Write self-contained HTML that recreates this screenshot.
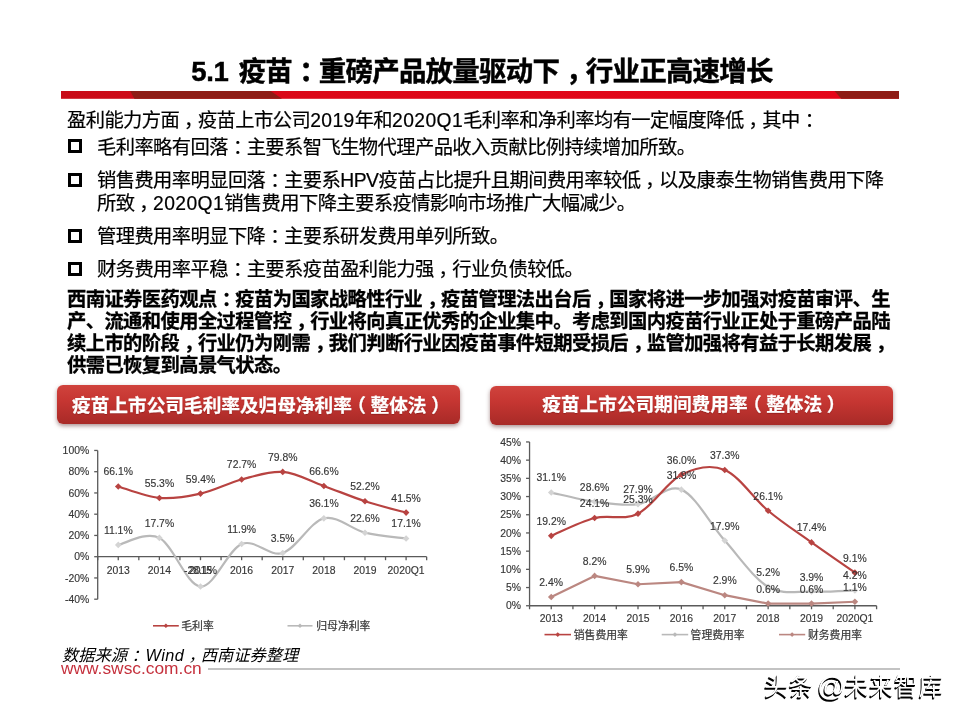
<!DOCTYPE html>
<html lang="zh-CN">
<head>
<meta charset="utf-8">
<title>5.1 疫苗：重磅产品放量驱动下，行业正高速增长</title>
<style>
html,body{margin:0;padding:0;background:#fff;}
body{width:960px;height:720px;overflow:hidden;position:relative;
  font-family:"Liberation Sans","Noto Sans CJK SC",sans-serif;color:#000;}
#slide{position:absolute;left:0;top:0;width:960px;height:720px;background:#fff;overflow:hidden;}
.abs{position:absolute;white-space:nowrap;}
#title{left:0;width:960px;top:54.2px;height:36px;line-height:36px;text-align:center;
  font-size:27.5px;font-weight:bold;letter-spacing:-.8px;word-spacing:3.5px;-webkit-text-stroke:.45px #000;}
#title span.w{position:relative;left:2px;}
.pc{position:relative;left:.25em}
.pk{position:relative;left:.26em}
.pl{position:relative;left:-.25em}
.pr{position:relative;left:.25em}
.ln{position:absolute;left:67px;white-space:nowrap;font-size:19.3px;letter-spacing:-.58px;line-height:24px;height:24px;color:#000;-webkit-text-stroke:.2px #000;}
.la{letter-spacing:.4px}
.ln.b{font-weight:bold;-webkit-text-stroke:.3px #000;}
.ln.ind{left:97px;}
.bx{position:absolute;left:68.3px;width:7.7px;height:7.7px;border:3px solid #000;background:#fff;}
.banner{position:absolute;height:39px;border-radius:6px;
  background:linear-gradient(#d0433d 0%,#c63632 40%,#a82a27 100%);
  box-shadow:0 2px 4px rgba(90,40,40,.5);
  color:#fff;font-weight:bold;font-size:18.67px;line-height:41.4px;text-align:center;white-space:nowrap;-webkit-text-stroke:.25px #fff;text-shadow:0 1px 1px rgba(80,0,0,.35);}
#src{left:62px;top:643px;font-size:16.3px;line-height:24px;font-style:italic;}
#www{left:61px;top:658px;font-size:17.35px;line-height:20px;color:#c5313d;}
#fline{position:absolute;left:208px;top:668px;width:692px;height:1.5px;background:#c3c3c3;}
.at{font-size:28px;position:relative;top:.5px;letter-spacing:-1px;word-spacing:-3.5px}
#wm{left:764px;top:670px;font-size:24px;letter-spacing:.8px;line-height:32px;color:#fff;
  text-shadow:-1px 1.5px 0 #000,-.5px 1px 0 #000;}
</style>
</head>
<body>
<div id="slide">

<div id="title" class="abs"><span class="w"><span style="letter-spacing:-.4px">5.1</span> 疫苗<span class="pk">：</span>重磅产品放量驱动下<span class="pc">，</span>行业正高速增长</span></div>

<svg class="abs" style="left:61px;top:91.3px" width="838" height="8" viewBox="0 0 838 8">
  <defs><linearGradient id="rg" x1="0" y1="0" x2="1" y2="0"><stop offset="0" stop-color="#c80c18"/><stop offset="0.3" stop-color="#dc0818"/><stop offset="1" stop-color="#e60519"/></linearGradient></defs>
  <rect x="0" y="0" width="838" height="7.8" fill="url(#rg)"/>
  <polygon points="69.2,0 209.6,0 221,7.8 73.4,7.8" fill="#8e1c15"/>
  <polygon points="773.5,0 838,0 838,7.8 780.3,7.8" fill="#8e1c15"/>
</svg>

<div class="ln" style="top:109.2px">盈利能力方面<span class="pc">，</span>疫苗上市公司<span class="la">2019</span>年和<span class="la">2020Q1</span>毛利率和净利率均有一定幅度降低<span class="pc">，</span>其中<span class="pk">：</span></div>
<div class="bx" style="top:139.4px"></div>
<div class="ln ind" style="top:135.7px">毛利率略有回落<span class="pk">：</span>主要系智飞生物代理产品收入贡献比例持续增加所致。</div>
<div class="bx" style="top:173.2px"></div>
<div class="ln ind" style="top:168.5px">销售费用率明显回落<span class="pk">：</span>主要系<span class="la" style="letter-spacing:-.4px">HPV</span>疫苗占比提升且期间费用率较低<span class="pc">，</span>以及康泰生物销售费用下降</div>
<div class="ln ind" style="top:191.5px">所致<span class="pc">，</span><span class="la">2020Q1</span>销售费用下降主要系疫情影响市场推广大幅减少。</div>
<div class="bx" style="top:229.1px"></div>
<div class="ln ind" style="top:225px">管理费用率明显下降<span class="pk">：</span>主要系研发费用单列所致。</div>
<div class="bx" style="top:262.4px"></div>
<div class="ln ind" style="top:258px">财务费用率平稳<span class="pk">：</span>主要系疫苗盈利能力强<span class="pc">，</span>行业负债较低。</div>

<div class="ln b" style="top:287.7px">西南证券医药观点<span class="pk">：</span>疫苗为国家战略性行业<span class="pc">，</span>疫苗管理法出台后<span class="pc">，</span>国家将进一步加强对疫苗审评、生</div>
<div class="ln b" style="top:309.8px">产、流通和使用全过程管控<span class="pc">，</span>行业将向真正优秀的企业集中。考虑到国内疫苗行业正处于重磅产品陆</div>
<div class="ln b" style="top:331.6px">续上市的阶段<span class="pc">，</span>行业仍为刚需<span class="pc">，</span>我们判断行业因疫苗事件短期受损后<span class="pc">，</span>监管加强将有益于长期发展<span class="pc">，</span></div>
<div class="ln b" style="top:354px">供需已恢复到高景气状态。</div>

<div class="banner" style="left:57px;top:384.6px;width:403.2px;">疫苗上市公司毛利率及归母净利率<span class="pl">（</span>整体法<span class="pr">）</span></div>
<div class="banner" style="left:490.2px;top:386.1px;width:402.8px;line-height:38.6px">疫苗上市公司期间费用率<span class="pl">（</span>整体法<span class="pr">）</span></div>

<svg class="abs" style="left:0;top:0" width="960" height="720" viewBox="0 0 960 720" font-family="Liberation Sans, Noto Sans CJK SC, sans-serif">
<style>.cj{font-family:"Liberation Sans","Noto Sans CJK SC",sans-serif}</style>
<g stroke="#5a5a5a" stroke-width="1.3" fill="none">
<path d="M97.70,450.45 V599.20"/>
<path d="M97.70,556.70 H426.66"/>
<path d="M94.20,599.20 H97.70"/>
<path d="M94.20,577.95 H97.70"/>
<path d="M94.20,556.70 H97.70"/>
<path d="M94.20,535.45 H97.70"/>
<path d="M94.20,514.20 H97.70"/>
<path d="M94.20,492.95 H97.70"/>
<path d="M94.20,471.70 H97.70"/>
<path d="M94.20,450.45 H97.70"/>
<path d="M97.70,556.70 V560.20"/>
<path d="M118.26,556.70 V560.20"/>
<path d="M138.82,556.70 V560.20"/>
<path d="M159.38,556.70 V560.20"/>
<path d="M179.94,556.70 V560.20"/>
<path d="M200.50,556.70 V560.20"/>
<path d="M221.06,556.70 V560.20"/>
<path d="M241.62,556.70 V560.20"/>
<path d="M262.18,556.70 V560.20"/>
<path d="M282.74,556.70 V560.20"/>
<path d="M303.30,556.70 V560.20"/>
<path d="M323.86,556.70 V560.20"/>
<path d="M344.42,556.70 V560.20"/>
<path d="M364.98,556.70 V560.20"/>
<path d="M385.54,556.70 V560.20"/>
<path d="M406.10,556.70 V560.20"/>
<path d="M426.66,556.70 V560.20"/>
</g>
<g font-size="10.4" fill="#363636" stroke="#363636" stroke-width=".15" text-anchor="end">
<text x="89.2" y="602.8">-40%</text>
<text x="89.2" y="581.6">-20%</text>
<text x="89.2" y="560.3">0%</text>
<text x="89.2" y="539.1">20%</text>
<text x="89.2" y="517.8">40%</text>
<text x="89.2" y="496.6">60%</text>
<text x="89.2" y="475.3">80%</text>
<text x="89.2" y="454.1">100%</text>
</g>
<path d="M118.26,544.91 C125.11,543.74 145.67,530.95 159.38,537.89 C173.09,544.84 186.79,585.53 200.50,586.56 C214.21,587.58 227.91,549.65 241.62,544.06 C255.33,538.46 269.03,557.27 282.74,552.98 C296.45,548.70 310.15,521.73 323.86,518.34 C337.57,514.96 351.27,529.32 364.98,532.69 C378.69,536.05 399.25,537.56 406.10,538.53" fill="none" stroke="#b9b9b9" stroke-width="2.2" stroke-linecap="round" stroke-linejoin="round"/>
<path d="M118.26,541.61 l3.30,3.30 l-3.30,3.30 l-3.30,-3.30 z" fill="#d4d4d4"/>
<path d="M159.38,534.59 l3.30,3.30 l-3.30,3.30 l-3.30,-3.30 z" fill="#d4d4d4"/>
<path d="M200.50,583.26 l3.30,3.30 l-3.30,3.30 l-3.30,-3.30 z" fill="#d4d4d4"/>
<path d="M241.62,540.76 l3.30,3.30 l-3.30,3.30 l-3.30,-3.30 z" fill="#d4d4d4"/>
<path d="M282.74,549.68 l3.30,3.30 l-3.30,3.30 l-3.30,-3.30 z" fill="#d4d4d4"/>
<path d="M323.86,515.04 l3.30,3.30 l-3.30,3.30 l-3.30,-3.30 z" fill="#d4d4d4"/>
<path d="M364.98,529.39 l3.30,3.30 l-3.30,3.30 l-3.30,-3.30 z" fill="#d4d4d4"/>
<path d="M406.10,535.23 l3.30,3.30 l-3.30,3.30 l-3.30,-3.30 z" fill="#d4d4d4"/>
<path d="M118.26,486.47 C125.11,488.38 145.67,496.76 159.38,497.94 C173.09,499.13 186.79,496.67 200.50,493.59 C214.21,490.51 227.91,483.07 241.62,479.46 C255.33,475.84 269.03,470.83 282.74,471.91 C296.45,472.99 310.15,481.05 323.86,485.94 C337.57,490.83 351.27,496.79 364.98,501.24 C378.69,505.68 399.25,510.71 406.10,512.61" fill="none" stroke="#b84341" stroke-width="2.2" stroke-linecap="round" stroke-linejoin="round"/>
<path d="M118.26,483.17 l3.30,3.30 l-3.30,3.30 l-3.30,-3.30 z" fill="#b84341"/>
<path d="M159.38,494.64 l3.30,3.30 l-3.30,3.30 l-3.30,-3.30 z" fill="#b84341"/>
<path d="M200.50,490.29 l3.30,3.30 l-3.30,3.30 l-3.30,-3.30 z" fill="#b84341"/>
<path d="M241.62,476.16 l3.30,3.30 l-3.30,3.30 l-3.30,-3.30 z" fill="#b84341"/>
<path d="M282.74,468.61 l3.30,3.30 l-3.30,3.30 l-3.30,-3.30 z" fill="#b84341"/>
<path d="M323.86,482.64 l3.30,3.30 l-3.30,3.30 l-3.30,-3.30 z" fill="#b84341"/>
<path d="M364.98,497.94 l3.30,3.30 l-3.30,3.30 l-3.30,-3.30 z" fill="#b84341"/>
<path d="M406.10,509.31 l3.30,3.30 l-3.30,3.30 l-3.30,-3.30 z" fill="#b84341"/>
<g font-size="10.4" fill="#363636" stroke="#363636" stroke-width=".15" text-anchor="middle">
<text x="118.3" y="573.9">2013</text>
<text x="159.4" y="573.9">2014</text>
<text x="200.5" y="573.9">2015</text>
<text x="241.6" y="573.9">2016</text>
<text x="282.7" y="573.9">2017</text>
<text x="323.9" y="573.9">2018</text>
<text x="365.0" y="573.9">2019</text>
<text x="406.1" y="573.9">2020Q1</text>
</g>
<g font-size="10.4" fill="#363636" stroke="#363636" stroke-width=".15" text-anchor="middle">
<text x="118.3" y="533.8">11.1%</text>
<text x="159.4" y="526.8">17.7%</text>
<text x="200.5" y="574.2">-28.1%</text>
<text x="241.6" y="533.0">11.9%</text>
<text x="282.7" y="541.9">3.5%</text>
<text x="323.9" y="507.2">36.1%</text>
<text x="365.0" y="521.6">22.6%</text>
<text x="406.1" y="527.4">17.1%</text>
<text x="118.3" y="475.4">66.1%</text>
<text x="159.4" y="486.8">55.3%</text>
<text x="200.5" y="482.5">59.4%</text>
<text x="241.6" y="468.4">72.7%</text>
<text x="282.7" y="460.8">79.8%</text>
<text x="323.9" y="474.8">66.6%</text>
<text x="365.0" y="490.1">52.2%</text>
<text x="406.1" y="501.5">41.5%</text>
</g>
<path d="M153.0,625.8 H178.8" stroke="#b84341" stroke-width="1.6"/>
<path d="M165.90,623.50 l2.30,2.30 l-2.30,2.30 l-2.30,-2.30 z" fill="#b84341"/>
<text x="181.3" y="629.7" font-size="10.8" fill="#363636" stroke="#363636" stroke-width=".2" class="cj">毛利率</text>
<path d="M287.5,625.8 H312.5" stroke="#b9b9b9" stroke-width="1.6"/>
<path d="M300.00,623.50 l2.30,2.30 l-2.30,2.30 l-2.30,-2.30 z" fill="#b9b9b9"/>
<text x="316.3" y="629.7" font-size="10.8" fill="#363636" stroke="#363636" stroke-width=".2" class="cj">归母净利率</text>
<g stroke="#5a5a5a" stroke-width="1.3" fill="none">
<path d="M529.55,441.95 V605.75"/>
<path d="M529.55,605.75 H876.59"/>
<path d="M526.05,605.75 H529.55"/>
<path d="M526.05,587.55 H529.55"/>
<path d="M526.05,569.35 H529.55"/>
<path d="M526.05,551.15 H529.55"/>
<path d="M526.05,532.95 H529.55"/>
<path d="M526.05,514.75 H529.55"/>
<path d="M526.05,496.55 H529.55"/>
<path d="M526.05,478.35 H529.55"/>
<path d="M526.05,460.15 H529.55"/>
<path d="M526.05,441.95 H529.55"/>
<path d="M529.55,605.75 V609.25"/>
<path d="M551.24,605.75 V609.25"/>
<path d="M572.93,605.75 V609.25"/>
<path d="M594.62,605.75 V609.25"/>
<path d="M616.31,605.75 V609.25"/>
<path d="M638.00,605.75 V609.25"/>
<path d="M659.69,605.75 V609.25"/>
<path d="M681.38,605.75 V609.25"/>
<path d="M703.07,605.75 V609.25"/>
<path d="M724.76,605.75 V609.25"/>
<path d="M746.45,605.75 V609.25"/>
<path d="M768.14,605.75 V609.25"/>
<path d="M789.83,605.75 V609.25"/>
<path d="M811.52,605.75 V609.25"/>
<path d="M833.21,605.75 V609.25"/>
<path d="M854.90,605.75 V609.25"/>
<path d="M876.59,605.75 V609.25"/>
</g>
<g font-size="10.4" fill="#363636" stroke="#363636" stroke-width=".15" text-anchor="end">
<text x="521.0" y="609.4">0%</text>
<text x="521.0" y="591.1">5%</text>
<text x="521.0" y="573.0">10%</text>
<text x="521.0" y="554.8">15%</text>
<text x="521.0" y="536.6">20%</text>
<text x="521.0" y="518.4">25%</text>
<text x="521.0" y="500.2">30%</text>
<text x="521.0" y="482.0">35%</text>
<text x="521.0" y="463.8">40%</text>
<text x="521.0" y="445.6">45%</text>
</g>
<path d="M551.24,492.55 C558.47,494.06 580.16,499.70 594.62,501.65 C609.08,503.59 623.54,506.20 638.00,504.19 C652.46,502.19 666.92,483.57 681.38,489.63 C695.84,495.70 710.30,524.40 724.76,540.59 C739.22,556.79 753.68,578.33 768.14,586.82 C782.60,595.32 797.06,590.95 811.52,591.55 C825.98,592.16 847.67,590.64 854.90,590.46" fill="none" stroke="#b9b9b9" stroke-width="2.2" stroke-linecap="round" stroke-linejoin="round"/>
<path d="M551.24,489.25 l3.30,3.30 l-3.30,3.30 l-3.30,-3.30 z" fill="#d4d4d4"/>
<path d="M594.62,498.35 l3.30,3.30 l-3.30,3.30 l-3.30,-3.30 z" fill="#d4d4d4"/>
<path d="M638.00,500.89 l3.30,3.30 l-3.30,3.30 l-3.30,-3.30 z" fill="#d4d4d4"/>
<path d="M681.38,486.33 l3.30,3.30 l-3.30,3.30 l-3.30,-3.30 z" fill="#d4d4d4"/>
<path d="M724.76,537.29 l3.30,3.30 l-3.30,3.30 l-3.30,-3.30 z" fill="#d4d4d4"/>
<path d="M768.14,583.52 l3.30,3.30 l-3.30,3.30 l-3.30,-3.30 z" fill="#d4d4d4"/>
<path d="M811.52,588.25 l3.30,3.30 l-3.30,3.30 l-3.30,-3.30 z" fill="#d4d4d4"/>
<path d="M854.90,587.16 l3.30,3.30 l-3.30,3.30 l-3.30,-3.30 z" fill="#d4d4d4"/>
<path d="M551.24,597.01 L594.62,575.90 L638.00,584.27 L681.38,582.09 L724.76,595.19 L768.14,603.57 L811.52,603.57 L854.90,601.75" fill="none" stroke="#bb8781" stroke-width="2.2" stroke-linecap="round" stroke-linejoin="round"/>
<path d="M551.24,593.71 l3.30,3.30 l-3.30,3.30 l-3.30,-3.30 z" fill="#bb8781"/>
<path d="M594.62,572.60 l3.30,3.30 l-3.30,3.30 l-3.30,-3.30 z" fill="#bb8781"/>
<path d="M638.00,580.97 l3.30,3.30 l-3.30,3.30 l-3.30,-3.30 z" fill="#bb8781"/>
<path d="M681.38,578.79 l3.30,3.30 l-3.30,3.30 l-3.30,-3.30 z" fill="#bb8781"/>
<path d="M724.76,591.89 l3.30,3.30 l-3.30,3.30 l-3.30,-3.30 z" fill="#bb8781"/>
<path d="M768.14,600.27 l3.30,3.30 l-3.30,3.30 l-3.30,-3.30 z" fill="#bb8781"/>
<path d="M811.52,600.27 l3.30,3.30 l-3.30,3.30 l-3.30,-3.30 z" fill="#bb8781"/>
<path d="M854.90,598.45 l3.30,3.30 l-3.30,3.30 l-3.30,-3.30 z" fill="#bb8781"/>
<path d="M551.24,535.86 C558.47,532.89 580.16,521.73 594.62,518.03 C609.08,514.33 623.54,520.88 638.00,513.66 C652.46,506.44 666.92,481.99 681.38,474.71 C695.84,467.43 710.30,463.97 724.76,469.98 C739.22,475.98 753.68,498.67 768.14,510.75 C782.60,522.82 797.06,532.10 811.52,542.41 C825.98,552.73 847.67,567.59 854.90,572.63" fill="none" stroke="#b84341" stroke-width="2.2" stroke-linecap="round" stroke-linejoin="round"/>
<path d="M551.24,532.56 l3.30,3.30 l-3.30,3.30 l-3.30,-3.30 z" fill="#b84341"/>
<path d="M594.62,514.73 l3.30,3.30 l-3.30,3.30 l-3.30,-3.30 z" fill="#b84341"/>
<path d="M638.00,510.36 l3.30,3.30 l-3.30,3.30 l-3.30,-3.30 z" fill="#b84341"/>
<path d="M681.38,471.41 l3.30,3.30 l-3.30,3.30 l-3.30,-3.30 z" fill="#b84341"/>
<path d="M724.76,466.68 l3.30,3.30 l-3.30,3.30 l-3.30,-3.30 z" fill="#b84341"/>
<path d="M768.14,507.45 l3.30,3.30 l-3.30,3.30 l-3.30,-3.30 z" fill="#b84341"/>
<path d="M811.52,539.11 l3.30,3.30 l-3.30,3.30 l-3.30,-3.30 z" fill="#b84341"/>
<path d="M854.90,569.33 l3.30,3.30 l-3.30,3.30 l-3.30,-3.30 z" fill="#b84341"/>
<g font-size="10.4" fill="#363636" stroke="#363636" stroke-width=".15" text-anchor="middle">
<text x="551.2" y="621.9">2013</text>
<text x="594.6" y="621.9">2014</text>
<text x="638.0" y="621.9">2015</text>
<text x="681.4" y="621.9">2016</text>
<text x="724.8" y="621.9">2017</text>
<text x="768.1" y="621.9">2018</text>
<text x="811.5" y="621.9">2019</text>
<text x="854.9" y="621.9">2020Q1</text>
</g>
<g font-size="10.4" fill="#363636" stroke="#363636" stroke-width=".15" text-anchor="middle">
<text x="551.2" y="481.4">31.1%</text>
<text x="594.6" y="490.5">28.6%</text>
<text x="638.0" y="493.1">27.9%</text>
<text x="681.4" y="478.5">31.9%</text>
<text x="724.8" y="529.5">17.9%</text>
<text x="768.1" y="575.7">5.2%</text>
<text x="811.5" y="580.5">3.9%</text>
<text x="854.9" y="579.4">4.2%</text>
<text x="551.2" y="585.9">2.4%</text>
<text x="594.6" y="564.8">8.2%</text>
<text x="638.0" y="573.2">5.9%</text>
<text x="681.4" y="571.0">6.5%</text>
<text x="724.8" y="584.1">2.9%</text>
<text x="768.1" y="592.5">0.6%</text>
<text x="811.5" y="592.5">0.6%</text>
<text x="854.9" y="590.6">1.1%</text>
<text x="551.2" y="524.8">19.2%</text>
<text x="594.6" y="506.9">24.1%</text>
<text x="638.0" y="502.6">25.3%</text>
<text x="681.4" y="463.6">36.0%</text>
<text x="724.8" y="458.9">37.3%</text>
<text x="768.1" y="499.6">26.1%</text>
<text x="811.5" y="531.3">17.4%</text>
<text x="854.9" y="561.5">9.1%</text>
</g>
<path d="M544.5,634.6 H571.0" stroke="#b84341" stroke-width="1.6"/>
<path d="M557.75,632.30 l2.30,2.30 l-2.30,2.30 l-2.30,-2.30 z" fill="#b84341"/>
<text x="573.8" y="638.5" font-size="10.8" fill="#363636" stroke="#363636" stroke-width=".2" class="cj">销售费用率</text>
<path d="M661.7,634.6 H688.2" stroke="#b9b9b9" stroke-width="1.6"/>
<path d="M674.95,632.30 l2.30,2.30 l-2.30,2.30 l-2.30,-2.30 z" fill="#b9b9b9"/>
<text x="690.6" y="638.5" font-size="10.8" fill="#363636" stroke="#363636" stroke-width=".2" class="cj">管理费用率</text>
<path d="M779.0,634.6 H805.2" stroke="#bb8781" stroke-width="1.6"/>
<path d="M792.10,632.30 l2.30,2.30 l-2.30,2.30 l-2.30,-2.30 z" fill="#bb8781"/>
<text x="808.0" y="638.5" font-size="10.8" fill="#363636" stroke="#363636" stroke-width=".2" class="cj">财务费用率</text>
</svg>

<div id="src" class="abs">数据来源<span class="pk">：</span><span style="margin-left:2px;letter-spacing:.5px">Wind</span><span class="pc">，</span>西南证券整理</div>
<div id="www" class="abs">www.swsc.com.cn</div>
<div id="fline"></div>
<div id="wm" class="abs">头条<span class="at"> @</span>未来智库</div>

</div>
</body>
</html>
